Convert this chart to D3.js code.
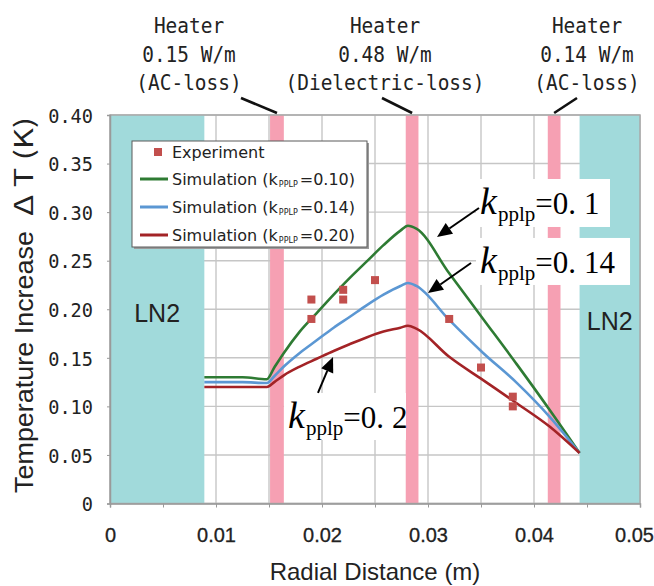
<!DOCTYPE html>
<html><head><meta charset="utf-8">
<script src="https://cdn.jsdelivr.net/npm/d3@7"></script>
<style>body{margin:0;background:#fff}svg{display:block}</style>
</head><body><svg id="c" width="654" height="586"></svg>
<script>
// ---------- data ----------
const xTickValues = [0, 0.01, 0.02, 0.03, 0.04, 0.05];
const xTickLabels = ["0", "0.01", "0.02", "0.03", "0.04", "0.05"];
const yTickValues = [0, 0.05, 0.10, 0.15, 0.20, 0.25, 0.30, 0.35, 0.40];
const yTickLabels = ["0", "0.05", "0.10", "0.15", "0.20", "0.25", "0.30", "0.35", "0.40"];

const simX    = [0.0089, 0.0125, 0.0148, 0.0155, 0.0164, 0.0179, 0.0195, 0.0211, 0.0226, 0.0242, 0.0258, 0.0274, 0.0281, 0.0289, 0.0320, 0.0352, 0.0384, 0.0415, 0.0443];
const simK010 = [0.130, 0.130, 0.128, 0.140, 0.155, 0.177, 0.196, 0.215, 0.232, 0.249, 0.266, 0.281, 0.286, 0.283, 0.237, 0.190, 0.143, 0.096, 0.052];
const simK014 = [0.125, 0.125, 0.124, 0.131, 0.141, 0.155, 0.168, 0.181, 0.192, 0.204, 0.215, 0.224, 0.227, 0.224, 0.189, 0.155, 0.124, 0.089, 0.052];
const simK020 = [0.120, 0.120, 0.120, 0.125, 0.132, 0.141, 0.149, 0.157, 0.164, 0.171, 0.177, 0.181, 0.183, 0.180, 0.151, 0.127, 0.103, 0.079, 0.052];

const expX = [0.019, 0.019, 0.022, 0.022, 0.025, 0.032, 0.035, 0.038, 0.038];
const expY = [0.21, 0.19, 0.22, 0.21, 0.23, 0.19, 0.14, 0.11, 0.10];

const ln2Bands = [[0, 0.0089], [0.0443, 0.05]];
const heaterBands = [[0.0151, 0.0164], [0.0279, 0.0291], [0.0413, 0.0425]];
const heaterPower = ["0.15 W/m", "0.48 W/m", "0.14 W/m"];
const heaterLoss = ["(AC-loss)", "(Dielectric-loss)", "(AC-loss)"];
const kValues = ["0.10", "0.14", "0.20"];
const annoValues = ["0.1", "0.14", "0.2"];
const seriesColors = ["#2e7b33", "#5b97d3", "#a32326"];

// ---------- layout ----------
const svg = d3.select("#c");
const x = d3.scaleLinear().domain([0, 0.05]).range([110, 640]);
const y = d3.scaleLinear().domain([0, 0.4]).range([503.5, 115]);
const gridColor = "#c6c6c6";
const MONO = "'DejaVu Sans Mono', monospace";
const SANS = "'Liberation Sans', Arial, sans-serif";
const DSANS = "'DejaVu Sans', sans-serif";
const SERIF = "'Liberation Serif', 'DejaVu Serif', serif";

svg.append("rect").attr("width", 654).attr("height", 586).attr("fill", "#fff");

// grid
const g = svg.append("g");
g.selectAll("line.vg").data(d3.range(0, 11).map(i => i * 0.005)).join("line")
  .attr("x1", d => x(d)).attr("x2", d => x(d)).attr("y1", y(0)).attr("y2", y(0.4))
  .attr("stroke", gridColor).attr("stroke-width", 1.4);
g.selectAll("line.hg").data(yTickValues).join("line")
  .attr("x1", x(0)).attr("x2", x(0.05)).attr("y1", d => y(d)).attr("y2", d => y(d))
  .attr("stroke", gridColor).attr("stroke-width", 1.4);

// LN2 bands
svg.selectAll("rect.ln2").data(ln2Bands).join("rect")
  .attr("x", d => x(d[0])).attr("width", d => x(d[1]) - x(d[0]))
  .attr("y", y(0.4)).attr("height", y(0) - y(0.4)).attr("fill", "#a1dadb");
// heater bands
svg.selectAll("rect.ht").data(heaterBands).join("rect")
  .attr("x", d => x(d[0])).attr("width", d => x(d[1]) - x(d[0]))
  .attr("y", y(0.4)).attr("height", y(0) - y(0.4)).attr("fill", "#f6a0b3");

// frame
svg.append("rect").attr("x", x(0)).attr("y", y(0.4)).attr("width", x(0.05) - x(0)).attr("height", y(0) - y(0.4))
  .attr("fill", "none").attr("stroke", "#a9a9a9").attr("stroke-width", 1.5);

// axes
const xAxis = svg.append("g").attr("transform", `translate(0,${y(0)})`)
  .call(d3.axisBottom(x).tickValues(d3.range(0, 11).map(i => i * 0.005)).tickSize(4).tickFormat(""));
xAxis.select(".domain").attr("stroke", "#9a9a9a").attr("stroke-width", 1.5);
xAxis.selectAll(".tick line").attr("stroke", "#9a9a9a");
const xLab = svg.append("g").attr("transform", `translate(0,${y(0)})`)
  .call(d3.axisBottom(x).tickValues(xTickValues).tickSize(0).tickFormat((d, i) => xTickLabels[i]));
xLab.select(".domain").remove();
xLab.selectAll("text").attr("y", 38).attr("dy", 0).attr("font-family", SANS).attr("font-size", 20)
  .attr("fill", "#222").attr("stroke", "#222").attr("stroke-width", 0.3)
  .attr("dx", (d, i) => i === xTickValues.length - 1 ? -6 : 0);

const yAxis = svg.append("g").attr("transform", `translate(${x(0)},0)`)
  .call(d3.axisLeft(y).tickValues(yTickValues).tickSize(3).tickPadding(14).tickFormat((d, i) => yTickLabels[i]));
yAxis.select(".domain").attr("stroke", "#9a9a9a").attr("stroke-width", 1.5);
yAxis.selectAll(".tick line").attr("stroke", "#9a9a9a");
yAxis.selectAll("text").attr("font-family", MONO).attr("font-size", 20).attr("fill", "#222").attr("dy", "0.36em")
  .attr("textLength", (d, i) => yTickLabels[i].length * 11.2).attr("lengthAdjust", "spacingAndGlyphs");

// axis titles
svg.append("text").attr("x", 375).attr("y", 580).attr("text-anchor", "middle")
  .attr("font-family", SANS).attr("font-size", 24).attr("fill", "#222").text("Radial Distance (m)");
svg.append("text").attr("transform", "translate(33,493) rotate(-90)")
  .attr("font-family", SANS).attr("font-size", 25).attr("fill", "#222")
  .attr("textLength", 262).attr("lengthAdjust", "spacingAndGlyphs").text("Temperature Increase");
svg.append("text").attr("transform", "translate(33,216) rotate(-90)")
  .attr("font-family", "'Noto Sans CJK JP', " + DSANS).attr("font-size", 25).attr("fill", "#222")
  .attr("textLength", 99).attr("lengthAdjust", "spacingAndGlyphs").text("Δ T (K)");

// LN2 labels
svg.append("text").attr("x", x((ln2Bands[0][0] + ln2Bands[0][1]) / 2)).attr("y", 322).attr("text-anchor", "middle")
  .attr("font-family", SANS).attr("font-size", 25).attr("fill", "#222").text("LN2");
svg.append("text").attr("x", x((ln2Bands[1][0] + ln2Bands[1][1]) / 2)).attr("y", 330).attr("text-anchor", "middle")
  .attr("font-family", SANS).attr("font-size", 25).attr("fill", "#222").text("LN2");

// heater labels (top)
const labelCenters = [189, 385, 587];
const leaderTails = [[241, 98], [382, 98], [577, 98]];
heaterBands.forEach((b, i) => {
  const lines = ["Heater", heaterPower[i], heaterLoss[i]];
  lines.forEach((s, j) => {
    const w = s.length * 11.7;
    svg.append("text").attr("x", labelCenters[i] - w / 2).attr("y", 33 + j * 28.5)
      .attr("font-family", MONO).attr("font-size", 22).attr("fill", "#222")
      .attr("textLength", w).attr("lengthAdjust", "spacingAndGlyphs").text(s);
  });
  svg.append("line").attr("x1", leaderTails[i][0]).attr("y1", leaderTails[i][1])
    .attr("x2", x((b[0] + b[1]) / 2)).attr("y2", y(0.4) - 2)
    .attr("stroke", "#111").attr("stroke-width", 2.6);
});

// legend
const lg = svg.append("g");
lg.append("rect").attr("x", 134).attr("y", 143).attr("width", 235).attr("height", 106).attr("fill", "#9a9a9a");
lg.append("rect").attr("x", 132).attr("y", 141).attr("width", 235).attr("height", 106)
  .attr("fill", "#fff").attr("stroke", "#5a5a5a").attr("stroke-width", 1);
lg.append("rect").attr("x", 154).attr("y", 148).attr("width", 8).attr("height", 8).attr("fill", "#c24f4d");
lg.append("text").attr("x", 172).attr("y", 158).attr("font-family", DSANS).attr("font-size", 16).attr("fill", "#222").text("Experiment");
kValues.forEach((k, i) => {
  const yy = 179 + i * 28;
  lg.append("line").attr("x1", 140).attr("x2", 168).attr("y1", yy).attr("y2", yy)
    .attr("stroke", seriesColors[i]).attr("stroke-width", 3);
  const t = lg.append("text").attr("x", 172).attr("y", yy + 6).attr("font-family", DSANS).attr("font-size", 16).attr("fill", "#222");
  t.append("tspan").text("Simulation (k");
  t.append("tspan").attr("font-size", 8).attr("dy", 2).attr("dx", 1).text("PPLP");
  t.append("tspan").attr("dy", -2).attr("dx", 2).text("=" + k + ")");
});

// simulation curves
const sims = [simK010, simK014, simK020];
const line = d3.line().x((d, i) => x(simX[i])).y(d => y(d)).curve(d3.curveMonotoneX);
sims.forEach((s, i) => {
  svg.append("path").attr("d", line(s)).attr("fill", "none")
    .attr("stroke", seriesColors[i]).attr("stroke-width", 2.6).attr("stroke-linejoin", "round");
});

// experiment points
svg.selectAll("rect.exp").data(expX).join("rect")
  .attr("x", (d) => x(d) - 4).attr("y", (d, i) => y(expY[i]) - 4)
  .attr("width", 8).attr("height", 8).attr("fill", "#c24f4d");

// annotations (data coordinates)
const annoBoxes = [
  { x0: 0.03453, x1: 0.04717, yTop: 0.3341, yBot: 0.2847, tail: [0.03481, 0.3042], tip: [0.03085, 0.2744] },
  { x0: 0.03453, x1: 0.04906, yTop: 0.2734, yBot: 0.2250, tail: [0.03406, 0.2476], tip: [0.0300, 0.2167] },
  { x0: 0.01642, x1: 0.02792, yTop: 0.1138, yBot: 0.0654, tail: [0.01962, 0.1138], tip: [0.02104, 0.1508] }
];
annoBoxes.forEach((a, i) => {
  svg.append("rect").attr("x", x(a.x0)).attr("y", y(a.yTop)).attr("width", x(a.x1) - x(a.x0))
    .attr("height", y(a.yBot) - y(a.yTop)).attr("fill", "#fff");
});
annoBoxes.forEach((a, i) => {
  const bx = x(a.x0) + 4, by = y(a.yTop) + 35;
  const t = svg.append("text").attr("x", bx).attr("y", by).attr("font-family", SERIF).attr("fill", "#000");
  t.append("tspan").attr("font-style", "italic").attr("font-size", 38).text("k");
  t.append("tspan").attr("font-size", 21).attr("dy", 7).attr("dx", 1).text("pplp");
  t.append("tspan").attr("font-size", 31).attr("dy", -7).text("=0.");
  t.append("tspan").attr("font-size", 31).attr("dx", 8).text(annoValues[i].slice(2));
  // arrow
  const x1 = x(a.tail[0]), y1 = y(a.tail[1]), x2 = x(a.tip[0]), y2 = y(a.tip[1]);
  const dx = x2 - x1, dy = y2 - y1, L = Math.hypot(dx, dy), ux = dx / L, uy = dy / L;
  const hl = 15, hw = 6.5, hx = x2 - ux * hl, hy = y2 - uy * hl;
  svg.append("line").attr("x1", x1).attr("y1", y1).attr("x2", hx).attr("y2", hy)
    .attr("stroke", "#000").attr("stroke-width", 2);
  svg.append("path").attr("d", `M${x2},${y2}L${hx - uy * hw},${hy + ux * hw}L${hx + uy * hw},${hy - ux * hw}Z`).attr("fill", "#000");
});
</script></body></html>
